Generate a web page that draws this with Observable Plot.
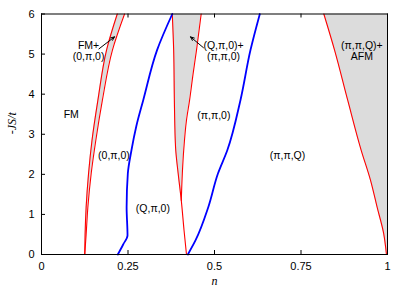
<!DOCTYPE html>
<html><head><meta charset="utf-8">
<script src="https://cdn.jsdelivr.net/npm/d3@7"></script>
<script src="https://cdn.jsdelivr.net/npm/@observablehq/plot@0.6"></script>
<style>body{margin:0;background:#fff} svg{display:block}</style>
</head><body><div id="chart"></div>
<script>
// axes
const nDomain = [0, 1];
const vDomain = [0, 6];
const xTicks = [0, 0.25, 0.5, 0.75, 1];
const xTickLabels = ["0", "0.25", "0.5", "0.75", "1"];
const yTicks = [0, 1, 2, 3, 4, 5, 6];

// FM boundary (two red lines with grey band between)
const fmV      = [0, 0.5, 1.18, 2.02, 2.85, 3.85, 5.1, 6];
const fmInnerN = [0.125, 0.126, 0.129, 0.136, 0.146, 0.163, 0.188, 0.219];
const fmOuterN = [0.125, 0.129, 0.134, 0.1436, 0.157, 0.176, 0.205, 0.240];

// left blue boundary
const blue1V = [0, 0.25, 0.475, 1.18, 2.02, 2.6, 3.2, 3.85, 5.1, 6];
const blue1N = [0.2205, 0.236, 0.2486, 0.246, 0.2495, 0.260, 0.274, 0.294, 0.334, 0.378];

// middle red boundaries (grey wedge between)
const midLeftV  = [0, 0.6, 1.35, 2.02, 2.6, 3.35, 3.85, 5.1, 6];
const midLeftN  = [0.419, 0.412, 0.404, 0.395, 0.388, 0.385, 0.384, 0.382, 0.378];
const midRightV = [1.35, 2.02, 2.6, 3.35, 3.85, 4.5, 5.1, 6];
const midRightN = [0.404, 0.407, 0.411, 0.419, 0.428, 0.438, 0.448, 0.4615];
const midLeftAtRightV = [0.404, 0.395, 0.388, 0.385, 0.384, 0.383, 0.382, 0.378];

// right blue boundary
const blue2V = [0, 0.35, 1.18, 2.02, 2.6, 3.85, 5.1, 6];
const blue2N = [0.423, 0.445, 0.482, 0.51, 0.537, 0.575, 0.604, 0.631];

// AFM boundary (grey to the right)
const afmV = [0, 0.52, 1.18, 1.85, 2.6, 3.85, 5.1, 6];
const afmN = [0.997, 0.989, 0.970, 0.951, 0.924, 0.885, 0.847, 0.816];

// region labels
const labelText = ["FM", "FM+\n(0,π,0)", "(0,π,0)", "(Q,π,0)", "(Q,π,0)+\n(π,π,0)", "(π,π,0)", "(π,π,Q)", "(π,π,Q)+\nAFM"];
const labelN    = [0.086, 0.136, 0.2095, 0.322, 0.526, 0.498, 0.711, 0.926];
const labelV    = [3.5, 5.08, 2.475, 1.15, 5.08, 3.475, 2.475, 5.08];

// arrows
const arrowN1 = [0.166, 0.468];
const arrowV1 = [5.13, 5.16];
const arrowN2 = [0.211, 0.4306];
const arrowV2 = [5.43, 5.43];

const rows = (V, N) => V.map((v, i) => ({v, n: N[i]}));
const fmBand = fmV.map((v, i) => ({v, a: fmInnerN[i], b: fmOuterN[i]}));
const midBand = midRightV.map((v, i) => ({v, a: midLeftAtRightV[i], b: midRightN[i]}));
const afmBand = afmV.map((v, i) => ({v, a: afmN[i], b: nDomain[1]}));
const labels = labelText.map((t, i) => ({t, n: labelN[i], v: labelV[i]}));
const arrows = arrowN1.map((n, i) => ({x1: n, y1: arrowV1[i], x2: arrowN2[i], y2: arrowV2[i]}));

const grey = "#dcdcdc";
const red = "#ff0000";
const blue = "#0000ff";
const curve = "monotone-y";

const chart = Plot.plot({
  width: 407, height: 291,
  marginLeft: 41, marginRight: 20, marginTop: 13.5, marginBottom: 37,
  x: {domain: nDomain},
  y: {domain: vDomain},
  style: {fontFamily: "Liberation Sans, Arial, sans-serif", fontSize: "11px", background: "white"},
  marks: [
    Plot.areaX(fmBand, {y: "v", x1: "a", x2: "b", fill: grey, curve}),
    Plot.areaX(midBand, {y: "v", x1: "a", x2: "b", fill: grey, curve}),
    Plot.areaX(afmBand, {y: "v", x1: "a", x2: "b", fill: grey, curve}),
    Plot.tickX(xTicks, {x: d => d, insetTop: 236.5, stroke: "black"}),
    Plot.tickX(xTicks, {x: d => d, insetBottom: 236.5, stroke: "black"}),
    Plot.tickY(yTicks, {y: d => d, insetRight: 342, stroke: "black"}),
    Plot.line(rows(fmV, fmInnerN), {x: "n", y: "v", stroke: red, strokeWidth: 1.1, curve}),
    Plot.line(rows(fmV, fmOuterN), {x: "n", y: "v", stroke: red, strokeWidth: 1.1, curve}),
    Plot.line(rows(midLeftV, midLeftN), {x: "n", y: "v", stroke: red, strokeWidth: 1.1, curve}),
    Plot.line(rows(midRightV, midRightN), {x: "n", y: "v", stroke: red, strokeWidth: 1.1, curve}),
    Plot.line(rows(afmV, afmN), {x: "n", y: "v", stroke: red, strokeWidth: 1.1, curve}),
    Plot.line(rows(blue1V, blue1N), {x: "n", y: "v", stroke: blue, strokeWidth: 1.8, curve}),
    Plot.line(rows(blue2V, blue2N), {x: "n", y: "v", stroke: blue, strokeWidth: 1.8, curve}),
    Plot.frame({stroke: "black", strokeWidth: 1}),
    Plot.axisX(xTicks, {tickSize: 0, tickPadding: 8, label: null, tickFormat: d => xTickLabels[xTicks.indexOf(d)], fontSize: 11}),
    Plot.axisY(yTicks, {tickSize: 0, tickPadding: 7, label: null, fontSize: 11}),
    Plot.text(labels, {x: "n", y: "v", text: "t", fontSize: 10.5, lineHeight: 1.1, fill: "black"}),
    Plot.arrow(arrows, {x1: "x1", y1: "y1", x2: "x2", y2: "y2", stroke: "black", strokeWidth: 1, headLength: 6, headAngle: 45}),
    Plot.text(["n"], {frameAnchor: "bottom", dy: 30, fontFamily: "Liberation Serif, serif", fontStyle: "italic", fontSize: 12}),
    Plot.text(["-JS/t"], {frameAnchor: "left", dx: -29, rotate: -90, fontFamily: "Liberation Serif, serif", fontStyle: "italic", fontSize: 12})
  ]
});
document.getElementById("chart").appendChild(chart);
</script>
</body></html>
